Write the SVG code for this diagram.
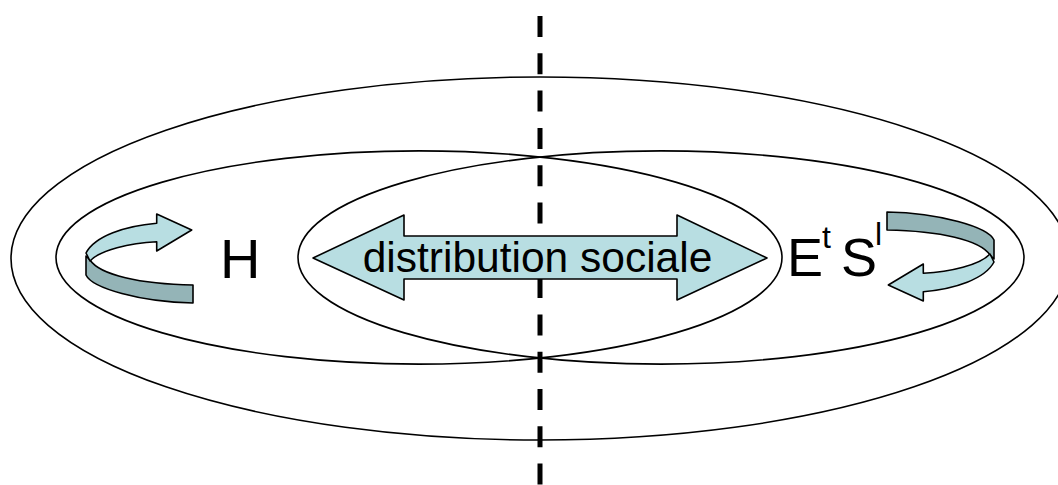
<svg xmlns="http://www.w3.org/2000/svg" width="1058" height="485" viewBox="0 0 1058 485">
<style>
.ring{fill:none;stroke:#000;stroke-width:1.6}
.light{fill:#B8DEE2;stroke:#000;stroke-width:1.6;stroke-linejoin:round}
.dark{fill:#94B4B7;stroke:#000;stroke-width:1.6;stroke-linejoin:round}
.lbl{font-family:"Liberation Sans",Arial,sans-serif;fill:#000}
</style>
<defs>
<g id="curl">
<path class="dark" d="M86,256 L86,275 C92,288 140,302 193,303 L193,285 C140,284 100,275 90,260 Z"/>
<path class="light" d="M86,253 C95,236 125,226 156.7,223.3 L156.7,214 L191.7,230 L156.7,251 L156.7,241.7 C130,243 100,250 90,261 Z"/>
</g>
</defs>
<g id="rings">
<ellipse id="outer" class="ring" cx="540" cy="258.5" rx="529" ry="181.5"/>
<ellipse id="left-mid" class="ring" cx="419" cy="257.5" rx="363" ry="106.6"/>
<ellipse id="right-mid" class="ring" cx="661" cy="257.5" rx="363" ry="106.6"/>
</g>
<g id="divider">
<line x1="540" y1="16" x2="540" y2="485" stroke="#000" stroke-width="5" stroke-dasharray="21 16.3"/>
</g>
<g id="distribution">
<polygon class="light" points="313,258 404,215 404,236 677,236 677,215 767,258 677,300 677,279 404,279 404,300"/>
<text class="lbl" x="537.5" y="272" font-size="42.5" text-anchor="middle">distribution sociale</text>
</g>
<g id="H">
<text class="lbl" x="220" y="278" font-size="56">H</text>
<use href="#curl"/>
</g>
<g id="EtSl">
<text class="lbl" y="276" font-size="54"><tspan x="787">E</tspan><tspan x="822" y="248" font-size="32">t</tspan><tspan x="841" y="276">S</tspan><tspan x="875" y="245" font-size="32">l</tspan></text>
<use href="#curl" transform="rotate(180 540 257.5)"/>
</g>
</svg>
